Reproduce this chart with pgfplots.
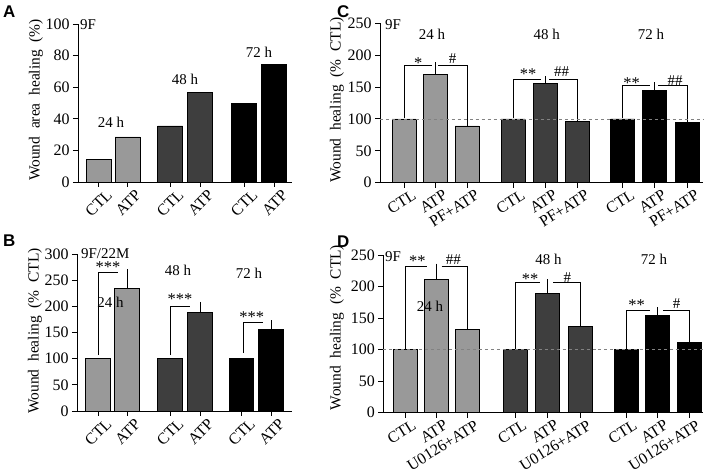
\documentclass[border=0pt]{standalone}
\usepackage{pgfplots}
\pgfplotsset{compat=1.18}
\usepackage{fontspec}
\setmainfont{Liberation Serif}
\newfontfamily\panelfont{Liberation Sans}
\definecolor{cA}{RGB}{153,153,153}
\definecolor{cB}{RGB}{62,62,62}
\definecolor{cC}{RGB}{0,0,0}
\definecolor{dashc}{RGB}{130,130,130}
\newcommand{\fs}{\fontsize{15}{15}\selectfont}
\newcommand{\ft}{\fontsize{16}{16}\selectfont}
\newcommand{\fst}{\fontsize{16.5}{16.5}\selectfont}
\newcommand{\fy}{\fontsize{15.5}{15.5}\selectfont}
\pgfplotsset{
  panel/.style={
    scale only axis, anchor=south west, clip=false,
    axis lines=left, axis line style={-, line width=0.9pt},
    tick align=outside, major tick length=5bp,
    tick style={black, line width=0.9pt},
    /pgf/number format/assume math mode=true,
    tick label style={font=\ft},
    ybar, bar shift=0pt,
  },
  bars/.style={draw=black, line width=0.8pt, fill=#1,
    error bars/y dir=plus, error bars/y explicit,
    error bars/error bar style={line width=0.8pt, black, solid},
    error bars/error mark options={line width=0.8pt, mark size=4bp, black, solid}},
}
\begin{document}
\begin{tikzpicture}
\path[use as bounding box] (0,0) rectangle (709bp,476bp);
% ---------------- Panel A ----------------
\begin{axis}[panel, at={(78bp,294bp)}, width=214bp, height=158bp,
  xmin=78, xmax=292, ymin=0, ymax=100, ytick={0,20,...,100},
  xtick={98.5,127.5,170,200,244,274},
  xticklabels={CTL,ATP,CTL,ATP,CTL,ATP},
  xticklabel style={xshift=7bp, rotate=45, anchor=north east, inner sep=1bp, font=\ft}]
\addplot[bar width=25, bars=cA] coordinates {(98.5,14) (127.5,28.5)};
\addplot[bar width=25, bars=cB] coordinates {(170,35.5) (200,56.5)};
\addplot[bar width=25, bars=cC] coordinates {(244,49.5) (274,74.5)};
\node[anchor=west, font=\fs, inner sep=0] at (axis cs:80,99.4) {9F};
\node[font=\fs, inner sep=0] at (axis cs:111,38) {24 h};
\node[font=\fs, inner sep=0] at (axis cs:185,65) {48 h};
\node[font=\fs, inner sep=0] at (axis cs:259,82) {72 h};
\end{axis}
% ---------------- Panel B ----------------
\begin{axis}[panel, at={(77bp,65bp)}, width=215bp, height=157bp,
  xmin=77, xmax=292, ymin=0, ymax=300, ytick={0,50,...,300},
  xtick={98,127,170,200,241.5,271},
  xticklabels={CTL,ATP,CTL,ATP,CTL,ATP},
  xticklabel style={xshift=7bp, rotate=45, anchor=north east, inner sep=1bp, font=\ft}]
\addplot[bar width=24.5, bars=cA] coordinates {(98,100) (127,235) +- (0,28)};
\addplot[bar width=24.5, bars=cB] coordinates {(170,100) (200,189) +- (0,12)};
\addplot[bar width=24.5, bars=cC] coordinates {(241.5,100) (271,156) +- (0,10)};
\draw[line width=0.8pt] (axis cs:98,107) |- (axis cs:118,264);
\draw[line width=0.8pt] (axis cs:170,107) |- (axis cs:190,200.6);
\draw[line width=0.8pt] (axis cs:243,111) |- (axis cs:263,170);
\node[anchor=base, font=\fst, inner sep=0] at (axis cs:108,265.6) {***};
\node[anchor=base, font=\fst, inner sep=0] at (axis cs:180,203.5) {***};
\node[anchor=base, font=\fst, inner sep=0] at (axis cs:251.7,170) {***};
\node[anchor=west, font=\fs, inner sep=0] at (axis cs:81,300) {9F/22M};
\node[font=\fs, inner sep=0] at (axis cs:110.5,208) {24 h};
\node[font=\fs, inner sep=0] at (axis cs:178,268.5) {48 h};
\node[font=\fs, inner sep=0] at (axis cs:249,263.7) {72 h};
\end{axis}
% ---------------- Panel C ----------------
\begin{axis}[panel, at={(380bp,293.3bp)}, width=323bp, height=159.4bp,
  xmin=380, xmax=703, ymin=0, ymax=250, ytick={0,50,...,250},
  xtick={404,435,467,513,545,577,622.5,654,687},
  xticklabels={CTL,ATP,PF+ATP,CTL,ATP,PF+ATP,CTL,ATP,PF+ATP},
  xticklabel style={xshift=8bp, rotate=32, anchor=north east, inner sep=1bp, font=\ft}]
\addplot[bar width=24, bars=cA] coordinates {(404,100) (435,170) +- (0,13) (467,89) +- (0,11)};
\addplot[bar width=24, bars=cB] coordinates {(513,100) (545,155) +- (0,6) (577,96) +- (0,13)};
\addplot[bar width=24, bars=cC] coordinates {(622.5,100) (654,145) +- (0,6.5) (687,94) +- (0,12)};
\draw[dashed, dashc, line width=0.7pt] (axis cs:380,100) -- (axis cs:703,100);
\draw[line width=0.8pt] (axis cs:404,101) |- (axis cs:432,184.5);
\draw[line width=0.8pt] (axis cs:438,184.5) -| (axis cs:467,106);
\draw[line width=0.8pt] (axis cs:513,101) |- (axis cs:541,162);
\draw[line width=0.8pt] (axis cs:549,162) -| (axis cs:577,114);
\draw[line width=0.8pt] (axis cs:622.5,101) |- (axis cs:650,152);
\draw[line width=0.8pt] (axis cs:658,152) -| (axis cs:687,109);
\node[anchor=base, font=\fst, inner sep=0] at (axis cs:418.3,179.8) {*};
\node[anchor=base, font=\fs, inner sep=0] at (axis cs:452.7,187) {\#};
\node[anchor=base, font=\fst, inner sep=0] at (axis cs:528,161.4) {**};
\node[anchor=base, font=\fs, inner sep=0] at (axis cs:561.7,166) {\#\#};
\node[anchor=base, font=\fst, inner sep=0] at (axis cs:631.7,148.4) {**};
\node[anchor=base, font=\fs, inner sep=0] at (axis cs:675,153) {\#\#};
\node[anchor=west, font=\fs, inner sep=0] at (axis cs:385,248.7) {9F};
\node[font=\fs, inner sep=0] at (axis cs:432,233) {24 h};
\node[font=\fs, inner sep=0] at (axis cs:546.7,233) {48 h};
\node[font=\fs, inner sep=0] at (axis cs:651,233) {72 h};
\end{axis}
% ---------------- Panel D ----------------
\begin{axis}[panel, at={(383.3bp,63.3bp)}, width=319.7bp, height=157.7bp,
  xmin=383.3, xmax=703, ymin=0, ymax=250, ytick={0,50,...,250},
  xtick={405,436.5,467.5,515.5,547.5,580,626,657,689},
  xticklabels={CTL,ATP,U0126+ATP,CTL,ATP,U0126+ATP,CTL,ATP,U0126+ATP},
  xticklabel style={xshift=7bp, rotate=32, anchor=north east, inner sep=1bp, font=\ft}]
\addplot[bar width=24, bars=cA] coordinates {(405,100) (436.5,211) +- (0,19) (467.5,132) +- (0,25)};
\addplot[bar width=24, bars=cB] coordinates {(515.5,100) (547.5,189) +- (0,16) (580,137) +- (0,26)};
\addplot[bar width=24, bars=cC] coordinates {(626,100) (657,154) +- (0,7) (689,112) +- (0,18)};
\draw[dashed, dashc, line width=0.7pt] (axis cs:383.3,101) -- (axis cs:703,101);
\draw[line width=0.8pt] (axis cs:405,101) |- (axis cs:427,231.4);
\draw[line width=0.8pt] (axis cs:441.7,231.4) -| (axis cs:467.5,163);
\draw[line width=0.8pt] (axis cs:515.5,101) |- (axis cs:540,206);
\draw[line width=0.8pt] (axis cs:553,206) -| (axis cs:580,168);
\draw[line width=0.8pt] (axis cs:626,101) |- (axis cs:650,162.8);
\draw[line width=0.8pt] (axis cs:663,162.8) -| (axis cs:689,134);
\node[anchor=base, font=\fst, inner sep=0] at (axis cs:417.3,232) {**};
\node[anchor=base, font=\fs, inner sep=0] at (axis cs:453.3,235) {\#\#};
\node[anchor=base, font=\fst, inner sep=0] at (axis cs:530,203.5) {**};
\node[anchor=base, font=\fs, inner sep=0] at (axis cs:567.3,206.7) {\#};
\node[anchor=base, font=\fst, inner sep=0] at (axis cs:636.7,162.3) {**};
\node[anchor=base, font=\fs, inner sep=0] at (axis cs:676.7,165.5) {\#};
\node[anchor=west, font=\fs, inner sep=0] at (axis cs:385,248) {9F};
\node[font=\fs, inner sep=0] at (axis cs:430,169.4) {24 h};
\node[font=\fs, inner sep=0] at (axis cs:548.5,243.6) {48 h};
\node[font=\fs, inner sep=0] at (axis cs:654,243.6) {72 h};
\end{axis}
% ---------------- y labels and panel letters ----------------
\node[rotate=90, font=\fy, inner sep=0] at (36bp,376bp) {Wound\hspace{0.5em}area\hspace{0.5em}healing\hspace{0.5em}(\%)};
\node[rotate=90, font=\fy, inner sep=0] at (35bp,145bp) {Wound\hspace{0.5em}healing\hspace{0.5em}(\%\hspace{0.5em}CTL)};
\node[rotate=90, font=\fy, inner sep=0] at (337bp,376bp) {Wound\hspace{0.5em}healing\hspace{0.5em}(\%\hspace{0.5em}CTL)};
\node[rotate=90, font=\fy, inner sep=0] at (337bp,148.5bp) {Wound\hspace{0.5em}healing\hspace{0.5em}(\%\hspace{0.5em}CTL)};
\node[anchor=base west, inner sep=0, font=\panelfont\bfseries\fontsize{17}{17}\selectfont] at (3bp,458bp) {A};
\node[anchor=base west, inner sep=0, font=\panelfont\bfseries\fontsize{17}{17}\selectfont] at (3bp,229bp) {B};
\node[anchor=base west, inner sep=0, font=\panelfont\bfseries\fontsize{17}{17}\selectfont] at (337bp,458bp) {C};
\node[anchor=base west, inner sep=0, font=\panelfont\bfseries\fontsize{17}{17}\selectfont] at (337bp,228bp) {D};
\end{tikzpicture}
\end{document}
